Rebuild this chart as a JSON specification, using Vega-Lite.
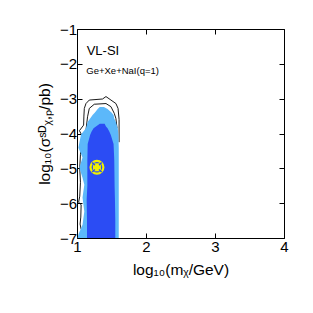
{
  "$schema": "https://vega.github.io/schema/vega-lite/v6.json",
  "width": 207,
  "height": 209,
  "autosize": {"type": "none"},
  "padding": {"left": 77, "top": 29, "right": 29, "bottom": 75},
  "background": "white",
  "config": {
    "view": {"stroke": "black", "strokeWidth": 1},
    "font": "Liberation Sans",
    "axis": {
      "grid": false,
      "domain": false,
      "tickSize": -5,
      "tickColor": "black",
      "tickWidth": 1,
      "labelColor": "black",
      "labelFont": "Liberation Sans",
      "labelFontSize": 15,
      "labelFlush": false,
      "labelOverlap": false,
      "titleFont": "Liberation Sans",
      "titleFontSize": 15.5,
      "titleFontWeight": "normal",
      "titleColor": "black"
    }
  },
  "datasets": {
    "contours": [
      {"c": "outer", "o": 1, "x": 1.06, "y": -6.75},
      {"c": "outer", "o": 2, "x": 1.045, "y": -6.6},
      {"c": "outer", "o": 3, "x": 1.055, "y": -6.4},
      {"c": "outer", "o": 4, "x": 1.06, "y": -6.05},
      {"c": "outer", "o": 5, "x": 1.024, "y": -5.97},
      {"c": "outer", "o": 6, "x": 1.04, "y": -5.8},
      {"c": "outer", "o": 7, "x": 1.05, "y": -5.4},
      {"c": "outer", "o": 8, "x": 1.04, "y": -5.0},
      {"c": "outer", "o": 9, "x": 1.05, "y": -4.6},
      {"c": "outer", "o": 10, "x": 1.06, "y": -4.3},
      {"c": "outer", "o": 11, "x": 1.07, "y": -4.05},
      {"c": "outer", "o": 12, "x": 1.035, "y": -3.92},
      {"c": "outer", "o": 13, "x": 1.096, "y": -3.76},
      {"c": "outer", "o": 14, "x": 1.1, "y": -3.5},
      {"c": "outer", "o": 15, "x": 1.106, "y": -3.28},
      {"c": "outer", "o": 16, "x": 1.13, "y": -3.14},
      {"c": "outer", "o": 17, "x": 1.178, "y": -3.04},
      {"c": "outer", "o": 18, "x": 1.37, "y": -3.01},
      {"c": "outer", "o": 19, "x": 1.42, "y": -2.94},
      {"c": "outer", "o": 20, "x": 1.492, "y": -3.04},
      {"c": "outer", "o": 21, "x": 1.564, "y": -3.14},
      {"c": "outer", "o": 22, "x": 1.595, "y": -3.28},
      {"c": "outer", "o": 23, "x": 1.61, "y": -3.6},
      {"c": "outer", "o": 24, "x": 1.61, "y": -4.25},
      {"c": "inner", "o": 1, "x": 1.13, "y": -3.9},
      {"c": "inner", "o": 2, "x": 1.153, "y": -3.52},
      {"c": "inner", "o": 3, "x": 1.178, "y": -3.28},
      {"c": "inner", "o": 4, "x": 1.25, "y": -3.16},
      {"c": "inner", "o": 5, "x": 1.42, "y": -3.14},
      {"c": "inner", "o": 6, "x": 1.492, "y": -3.23},
      {"c": "inner", "o": 7, "x": 1.54, "y": -3.42},
      {"c": "inner", "o": 8, "x": 1.564, "y": -3.57},
      {"c": "inner", "o": 9, "x": 1.58, "y": -3.85}
    ],
    "light": [
      {"y": -7.0, "xl": 1.01, "xr": 1.605},
      {"y": -6.9, "xl": 1.02, "xr": 1.605},
      {"y": -6.62, "xl": 1.08, "xr": 1.605},
      {"y": -6.24, "xl": 1.106, "xr": 1.605},
      {"y": -5.84, "xl": 1.08, "xr": 1.605},
      {"y": -5.47, "xl": 1.106, "xr": 1.605},
      {"y": -5.27, "xl": 1.08, "xr": 1.605},
      {"y": -4.98, "xl": 1.034, "xr": 1.605},
      {"y": -4.69, "xl": 1.08, "xr": 1.605},
      {"y": -4.41, "xl": 1.02, "xr": 1.605},
      {"y": -4.03, "xl": 1.058, "xr": 1.6},
      {"y": -3.85, "xl": 1.13, "xr": 1.59},
      {"y": -3.67, "xl": 1.153, "xr": 1.564},
      {"y": -3.57, "xl": 1.19, "xr": 1.54},
      {"y": -3.47, "xl": 1.226, "xr": 1.53},
      {"y": -3.4, "xl": 1.26, "xr": 1.5},
      {"y": -3.3, "xl": 1.3, "xr": 1.443},
      {"y": -3.24, "xl": 1.33, "xr": 1.39}
    ],
    "dark": [
      {"y": -7.0, "xl": 1.145, "xr": 1.555},
      {"y": -6.5, "xl": 1.145, "xr": 1.555},
      {"y": -5.9, "xl": 1.14, "xr": 1.55},
      {"y": -5.5, "xl": 1.15, "xr": 1.545},
      {"y": -4.75, "xl": 1.15, "xr": 1.54},
      {"y": -4.3, "xl": 1.155, "xr": 1.53},
      {"y": -4.04, "xl": 1.19, "xr": 1.49},
      {"y": -3.95, "xl": 1.21, "xr": 1.47},
      {"y": -3.85, "xl": 1.24, "xr": 1.443},
      {"y": -3.8, "xl": 1.275, "xr": 1.42},
      {"y": -3.72, "xl": 1.33, "xr": 1.4}
    ],
    "marker": [{"x": 1.289, "y": -4.97}],
    "labels": [
      {"x": 1.14, "y": -1.74, "t": "VL-SI", "s": "big"},
      {"x": 1.135, "y": -2.29, "t": "Ge+Xe+NaI(q=1)", "s": "small"}
    ]
  },
  "layer": [
    {
      "data": {"name": "contours"},
      "mark": {"type": "line", "stroke": "black", "strokeWidth": 0.9},
      "encoding": {
        "x": {"field": "x", "type": "quantitative",
              "scale": {"domain": [1, 4], "nice": false, "zero": false},
              "axis": {"orient": "bottom", "values": [1, 2, 3, 4], "labelPadding": 6, "title": "log₁₀(mᵪ/GeV)", "titlePadding": 8}},
        "y": {"field": "y", "type": "quantitative",
              "scale": {"domain": [-7, -1], "nice": false, "zero": false},
              "axis": {"orient": "left", "values": [-7, -6, -5, -4, -3, -2, -1], "labelPadding": 5.5, "title": "log₁₀(σˢᴰᵪ,ₚ/pb)", "titlePadding": 7}},
        "detail": {"field": "c"},
        "order": {"field": "o", "type": "quantitative"}
      }
    },
    {
      "data": {"name": "light"},
      "mark": {"type": "area", "orient": "horizontal", "color": "#5cb8fa", "opacity": 1},
      "encoding": {
        "y": {"field": "y", "type": "quantitative", "axis": null},
        "x": {"field": "xl", "type": "quantitative", "axis": null},
        "x2": {"field": "xr"}
      }
    },
    {
      "data": {"name": "dark"},
      "mark": {"type": "area", "orient": "horizontal", "color": "#2b4cf4", "opacity": 1},
      "encoding": {
        "y": {"field": "y", "type": "quantitative", "axis": null},
        "x": {"field": "xl", "type": "quantitative", "axis": null},
        "x2": {"field": "xr"}
      }
    },
    {
      "data": {"name": "marker"},
      "mark": {"type": "point", "shape": "circle", "filled": false, "size": 165, "stroke": "#f0f000", "strokeWidth": 2.2, "opacity": 1},
      "encoding": {
        "x": {"field": "x", "type": "quantitative", "axis": null},
        "y": {"field": "y", "type": "quantitative", "axis": null}
      }
    },
    {
      "data": {"name": "marker"},
      "mark": {"type": "point", "shape": "square", "filled": true, "size": 64, "color": "#f0f000", "opacity": 1},
      "encoding": {
        "x": {"field": "x", "type": "quantitative", "axis": null},
        "y": {"field": "y", "type": "quantitative", "axis": null}
      }
    },
    {
      "data": {"name": "marker"},
      "mark": {"type": "point", "shape": "M-1,-1L-0.45,-0.45M1,1L0.45,0.45M-1,1L-0.45,0.45M1,-1L0.45,-0.45", "filled": false, "size": 90, "stroke": "#2b4cf4", "strokeWidth": 1.5, "opacity": 1},
      "encoding": {
        "x": {"field": "x", "type": "quantitative", "axis": null},
        "y": {"field": "y", "type": "quantitative", "axis": null}
      }
    },
    {
      "data": {"name": "labels"},
      "mark": {"type": "text", "align": "left", "baseline": "alphabetic", "font": "Liberation Sans", "color": "black"},
      "encoding": {
        "x": {"field": "x", "type": "quantitative",
              "axis": {"orient": "top", "values": [1, 2, 3, 4], "labels": false, "title": null}},
        "y": {"field": "y", "type": "quantitative",
              "axis": {"orient": "right", "values": [-7, -6, -5, -4, -3, -2, -1], "labels": false, "title": null}},
        "text": {"field": "t"},
        "size": {"field": "s", "type": "nominal", "scale": {"domain": ["big", "small"], "range": [13, 9.5]}, "legend": null}
      }
    }
  ],
  "resolve": {"axis": {"x": "independent", "y": "independent"}}
}
